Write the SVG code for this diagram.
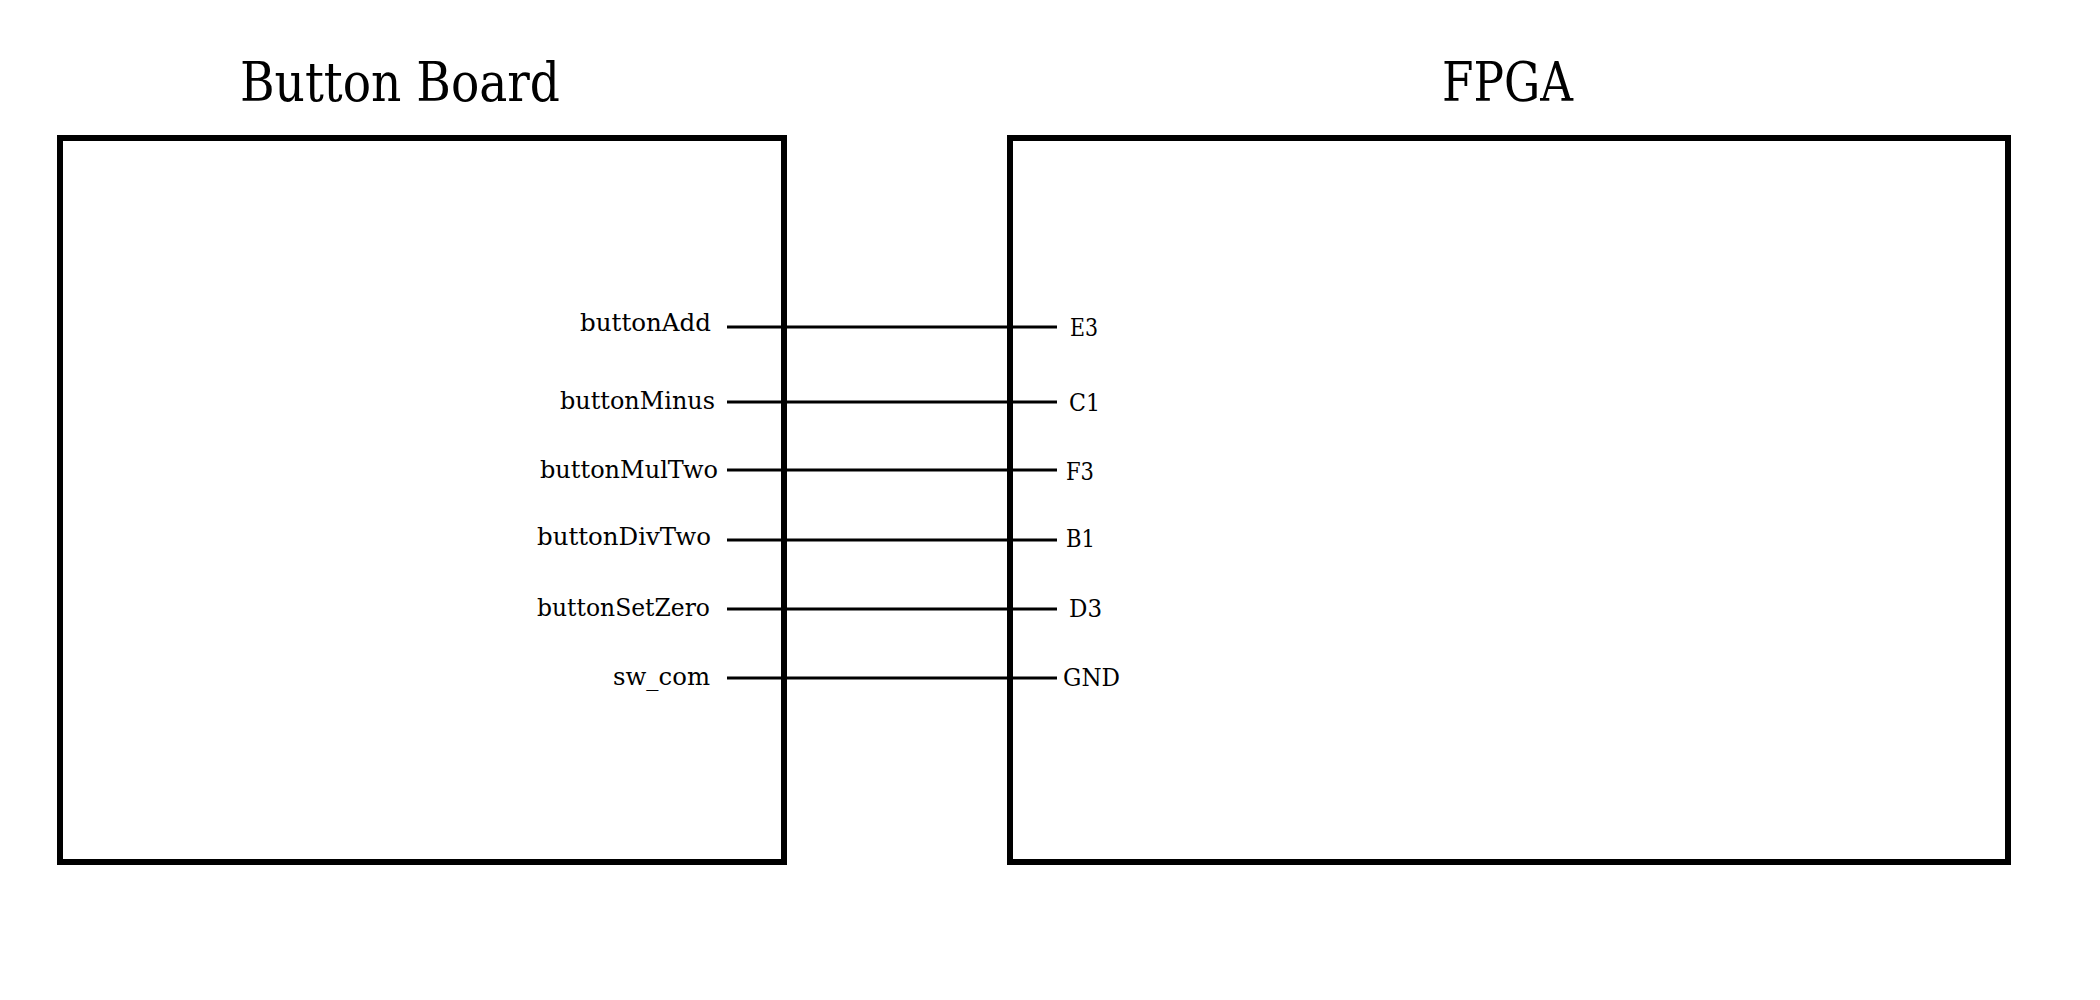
<svg xmlns="http://www.w3.org/2000/svg" width="2100" height="1000" viewBox="0 0 2100 1000">
<style>
.box{fill:none;stroke:#000;stroke-width:6}
.title{font-family:"DejaVu Serif","Liberation Serif",serif;font-size:54px;fill:#000}
.lbl{font-family:"DejaVu Serif","Liberation Serif",serif;font-size:25px;fill:#000}
.wire{stroke:#000;stroke-width:3;fill:none}
</style>
<rect width="2100" height="1000" fill="#fff"/>
<g id="button-board">
<rect class="box" x="60" y="138" width="724" height="724"/>
<text class="title" x="240" y="101" textLength="320" lengthAdjust="spacingAndGlyphs">Button Board</text>
<text class="lbl" x="580" y="331" textLength="131" lengthAdjust="spacingAndGlyphs">buttonAdd</text>
<text class="lbl" x="560" y="409" textLength="155" lengthAdjust="spacingAndGlyphs">buttonMinus</text>
<text class="lbl" x="540" y="478" textLength="178" lengthAdjust="spacingAndGlyphs">buttonMulTwo</text>
<text class="lbl" x="537" y="545" textLength="174" lengthAdjust="spacingAndGlyphs">buttonDivTwo</text>
<text class="lbl" x="537" y="616" textLength="173" lengthAdjust="spacingAndGlyphs">buttonSetZero</text>
<text class="lbl" x="613" y="685" textLength="97" lengthAdjust="spacingAndGlyphs">sw_com</text>
</g>
<g id="fpga">
<rect class="box" x="1010" y="138" width="998" height="724"/>
<text class="title" x="1442" y="101" textLength="131" lengthAdjust="spacingAndGlyphs">FPGA</text>
<text class="lbl" x="1070" y="336" textLength="28" lengthAdjust="spacingAndGlyphs">E3</text>
<text class="lbl" x="1069" y="411" textLength="31" lengthAdjust="spacingAndGlyphs">C1</text>
<text class="lbl" x="1066" y="480" textLength="28" lengthAdjust="spacingAndGlyphs">F3</text>
<text class="lbl" x="1066" y="547" textLength="29" lengthAdjust="spacingAndGlyphs">B1</text>
<text class="lbl" x="1069" y="617" textLength="33" lengthAdjust="spacingAndGlyphs">D3</text>
<text class="lbl" x="1063" y="686" textLength="57" lengthAdjust="spacingAndGlyphs">GND</text>
</g>
<g id="connectors">
<line class="wire" x1="727" y1="327" x2="1057" y2="327"/>
<line class="wire" x1="727" y1="402" x2="1057" y2="402"/>
<line class="wire" x1="727" y1="470" x2="1057" y2="470"/>
<line class="wire" x1="727" y1="540" x2="1057" y2="540"/>
<line class="wire" x1="727" y1="609" x2="1057" y2="609"/>
<line class="wire" x1="727" y1="678" x2="1057" y2="678"/>
</g>
</svg>
